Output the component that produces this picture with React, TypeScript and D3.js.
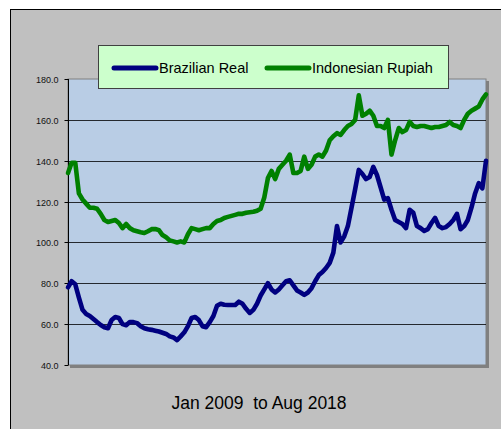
import { useEffect, useRef } from "react";
import * as d3 from "d3";

// monthly index values, Jan 2009 .. Aug 2018
const rupiah = [
  134, 139, 139, 124, 121, 119, 117, 117, 116.5, 114, 111, 110,
  110.5, 111, 109.5, 107, 109, 107, 106, 105.5, 105, 104.6, 105.5, 106.5,
  106.6, 106, 103.6, 102.5, 101, 100.5, 100, 100.5, 100, 104, 107, 106.5,
  106, 106.5, 107, 107, 109, 110.5, 111, 112, 112.5, 113, 113.5, 114,
  114, 114.5, 114.8, 115, 115.5, 116.5, 122, 131.5, 135, 131, 136, 138,
  140, 143, 134, 134, 135, 142, 136, 138, 142, 143, 142, 145,
  150, 152, 153.5, 152.6, 155, 157, 158, 160, 172, 162, 163, 164.5,
  162, 157, 157, 156, 160, 143, 150, 156, 154, 155, 159, 157,
  156.5, 157, 157, 156.5, 156, 156.5, 156.5, 157, 157.5, 159, 157.5, 157,
  156, 160, 163, 164.5, 165.5, 166.5, 170, 172.5,
];

const real = [
  78, 81, 79.5, 73, 67, 65, 64, 62.5, 61, 59.6, 58.5, 58,
  62, 63.5, 63, 60, 59.5, 61, 61, 60.5, 59, 58, 57.5, 57.2,
  56.8, 56.4, 55.8, 55.2, 54, 53.5, 52.2, 54, 56, 59, 63, 63.5,
  62, 59, 58.5, 61, 64, 69, 70, 69.5, 69.4, 69.4, 69.4, 71,
  70, 67.5, 65.5, 67, 70, 74, 77, 80, 77, 75.5, 77, 79,
  81, 81.5, 79, 76.5, 75.5, 74.3, 75.5, 77.6, 81, 84, 85.5, 87.5,
  90, 95, 108, 100, 103, 108, 117, 126, 135.5, 133.5, 131, 132,
  137, 133, 127, 121, 121.7, 116, 111, 110, 109, 107, 116, 114.5,
  108, 107, 105.6, 106.5, 109.5, 112, 108, 107, 107.5, 109, 111, 114,
  106.5, 108, 111, 117, 124, 129, 126.5, 140,
];

const series = [
  { name: "Brazilian Real", values: real, color: "#000080" },
  { name: "Indonesian Rupiah", values: rupiah, color: "#008000" },
];

const yTicks = [40, 60, 80, 100, 120, 140, 160, 180];
const caption = "Jan 2009  to Aug 2018";

export default function App() {
  const ref = useRef<SVGSVGElement>(null);

  useEffect(() => {
    if (!ref.current) return;
    const width = 501;
    const height = 429;
    const left = 68, right = 486, top = 79, bottom = 365;

    const svg = d3.select(ref.current);
    svg.selectAll("*").remove();

    svg.append("rect").attr("width", width).attr("height", height).attr("fill", "#fff");
    // outer chart area
    svg.append("rect")
      .attr("x", 10.5).attr("y", 9.5)
      .attr("width", width).attr("height", height)
      .attr("fill", "#c0c0c0").attr("stroke", "#000");

    const x = d3.scaleLinear().domain([0, real.length - 1]).range([left, right]);
    const y = d3.scaleLinear().domain([40, 180]).range([bottom, top]);

    // plot area shadow + fill
    svg.append("rect")
      .attr("x", left + 2).attr("y", top + 2)
      .attr("width", right - left + 1).attr("height", bottom - top + 1)
      .attr("fill", "#808080");
    svg.append("rect")
      .attr("x", left).attr("y", top)
      .attr("width", right - left).attr("height", bottom - top)
      .attr("fill", "#b9cde5").attr("stroke", "#808080");

    // gridlines
    svg.append("g")
      .selectAll("line")
      .data(yTicks.slice(1, -1))
      .enter()
      .append("line")
      .attr("x1", left).attr("x2", right)
      .attr("y1", (d) => Math.round(y(d)) + 0.5)
      .attr("y2", (d) => Math.round(y(d)) + 0.5)
      .attr("stroke", "#000").attr("stroke-opacity", 0.8);

    // y axis
    const axis = svg.append("g").attr("transform", `translate(${left + 0.5},0)`);
    axis.append("line").attr("y1", top).attr("y2", bottom).attr("stroke", "#000");
    const t = axis.selectAll("g.tick").data(yTicks).enter().append("g")
      .attr("transform", (d) => `translate(0,${Math.round(y(d)) + 0.5})`);
    t.append("line").attr("x1", -4).attr("x2", 0).attr("stroke", "#000");
    t.append("text")
      .attr("x", -10).attr("dy", "0.35em")
      .attr("text-anchor", "end")
      .attr("font-family", "Liberation Sans, Arial, sans-serif")
      .attr("font-size", 9)
      .attr("fill", "#111")
      .text((d) => d.toFixed(1));

    // lines
    const line = d3.line<number>().x((_, i) => x(i)).y((d) => y(d));
    svg.append("g")
      .selectAll("path")
      .data(series)
      .enter()
      .append("path")
      .attr("d", (d) => line(d.values))
      .attr("fill", "none")
      .attr("stroke", (d) => d.color)
      .attr("stroke-width", 4.6)
      .attr("stroke-linejoin", "round")
      .attr("stroke-linecap", "round");

    // legend
    const lg = svg.append("g");
    lg.append("rect")
      .attr("x", 98.5).attr("y", 45.5).attr("width", 350).attr("height", 43)
      .attr("fill", "#ccffcc").attr("stroke", "#404040");
    const items = lg.selectAll("g.item").data(series).enter().append("g")
      .attr("transform", (_, i) => `translate(${i === 0 ? 114 : 267},68)`);
    items.append("line")
      .attr("x1", 0).attr("x2", 42)
      .attr("stroke", (d) => d.color).attr("stroke-width", 5)
      .attr("stroke-linecap", "round");
    items.append("text")
      .attr("x", 45).attr("dy", "0.35em")
      .attr("font-family", "Liberation Sans, Arial, sans-serif")
      .attr("font-size", 14.5)
      .attr("fill", "#000")
      .text((d) => d.name);

    svg.append("text")
      .attr("x", 259).attr("y", 409)
      .attr("text-anchor", "middle")
      .attr("font-family", "Liberation Sans, Arial, sans-serif")
      .attr("font-size", 17.5)
      .attr("fill", "#000")
      .style("white-space", "pre")
      .text(caption);
  }, []);

  return (
    <svg
      ref={ref}
      width={501}
      height={429}
      style={{ position: "absolute", left: 0, top: 0 }}
    />
  );
}
